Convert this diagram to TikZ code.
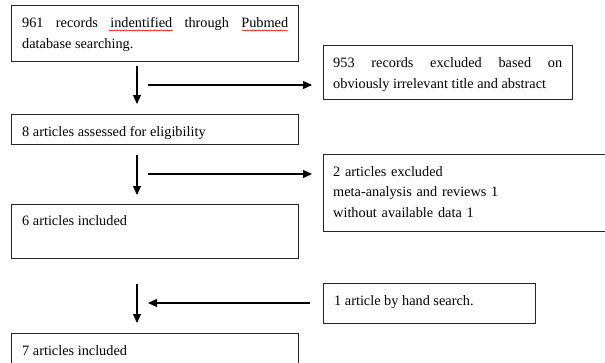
\documentclass[tikz,border=0pt]{standalone}
\usepackage{fontspec}
\setmainfont{Liberation Serif}
\usetikzlibrary{arrows.meta,calc,decorations.pathmorphing}
\tikzset{
  box/.style={draw=black!85, line width=1.2pt, inner sep=0pt, anchor=north west},
  txt/.style={inner sep=0pt, anchor=base west, align=justify,
    font=\fontsize{14.3}{20.5}\selectfont},
  arr/.style={draw=black, line width=1.1pt, -{Triangle[length=9pt,width=8pt]}},
  spell/.style={draw=red!85!black, line width=0.5pt,
    decorate, decoration={snake, amplitude=0.6pt, segment length=2.4pt}},
}
\begin{document}
\begin{tikzpicture}[x=1pt,y=-1pt]
\useasboundingbox (0,0) rectangle (605,362);
\clip (0,0) rectangle (605,362);
% boxes
\node[box, minimum width=287pt, minimum height=55.5pt] (b1) at (11,5) {};
\node[box, minimum width=249pt, minimum height=54pt] (b2) at (323,45) {};
\node[box, minimum width=287pt, minimum height=30pt] (b3) at (11,114) {};
\node[box, minimum width=290pt, minimum height=76.5pt] (b4) at (323,154) {};
\node[box, minimum width=287pt, minimum height=54pt] (b5) at (11,204) {};
\node[box, minimum width=212pt, minimum height=40pt] (b6) at (323,283) {};
\node[box, minimum width=287pt, minimum height=45pt] (b7) at (11,333) {};
% texts
\node[txt, text width=266pt] (t1) at ($(b1.north west)+(11,22.5)$)
  {\hyphenpenalty=10000 961 records indentified through Pubmed\linebreak database searching.};
\node[txt, text width=229pt] (t2) at ($(b2.north west)+(10,22.5)$)
  {\hyphenpenalty=10000 953 records excluded based on\linebreak obviously irrelevant title and abstract};
\node[txt, text width=266pt] (t3) at ($(b3.north west)+(11,22)$) {8 articles assessed for eligibility};
\node[txt, text width=260pt, align=left] (t4) at ($(b4.north west)+(10,22)$)
  {2 articles excluded\\ meta-analysis and reviews 1\\ without available data 1};
\node[txt, text width=266pt] (t5) at ($(b5.north west)+(11,21.5)$) {6 articles included};
\node[txt, text width=190pt] (t6) at ($(b6.north west)+(11,22)$) {1 article by hand search.};
\node[txt, text width=266pt] (t7) at ($(b7.north west)+(11,22)$) {7 articles included};
% spell-check marks
\coordinate (w1a) at (109,30.5); \coordinate (w1b) at (173,30.5);
\coordinate (w2a) at (242,30.5); \coordinate (w2b) at (288,30.5);
\draw[spell] (w1a) -- (w1b);
\draw[spell] (w2a) -- (w2b);
% arrow end points
\coordinate (v1s) at ($(b1.south west)+(126,4.5)$);
\coordinate (v1e) at ($(b3.north west)+(126,-10)$);
\coordinate (v2s) at ($(b3.south west)+(126,10)$);
\coordinate (v2e) at ($(b5.north west)+(126,-9)$);
\coordinate (v3s) at ($(b5.south west)+(126,25)$);
\coordinate (v3e) at ($(b7.north west)+(126,-10)$);
\coordinate (h1s) at (148,85);
\coordinate (h2s) at (148,174);
\coordinate (h3e) at (148,303);
% arrows
\draw[arr] (v1s) -- (v1e);
\draw[arr] (v2s) -- (v2e);
\draw[arr] (v3s) -- (v3e);
\draw[arr, shorten >=11pt] (h1s) -- (h1s -| b2.west);
\draw[arr, shorten >=11pt] (h2s) -- (h2s -| b4.west);
\draw[arr, shorten <=13pt] (h3e -| b6.west) -- (h3e);
\end{tikzpicture}
\end{document}
